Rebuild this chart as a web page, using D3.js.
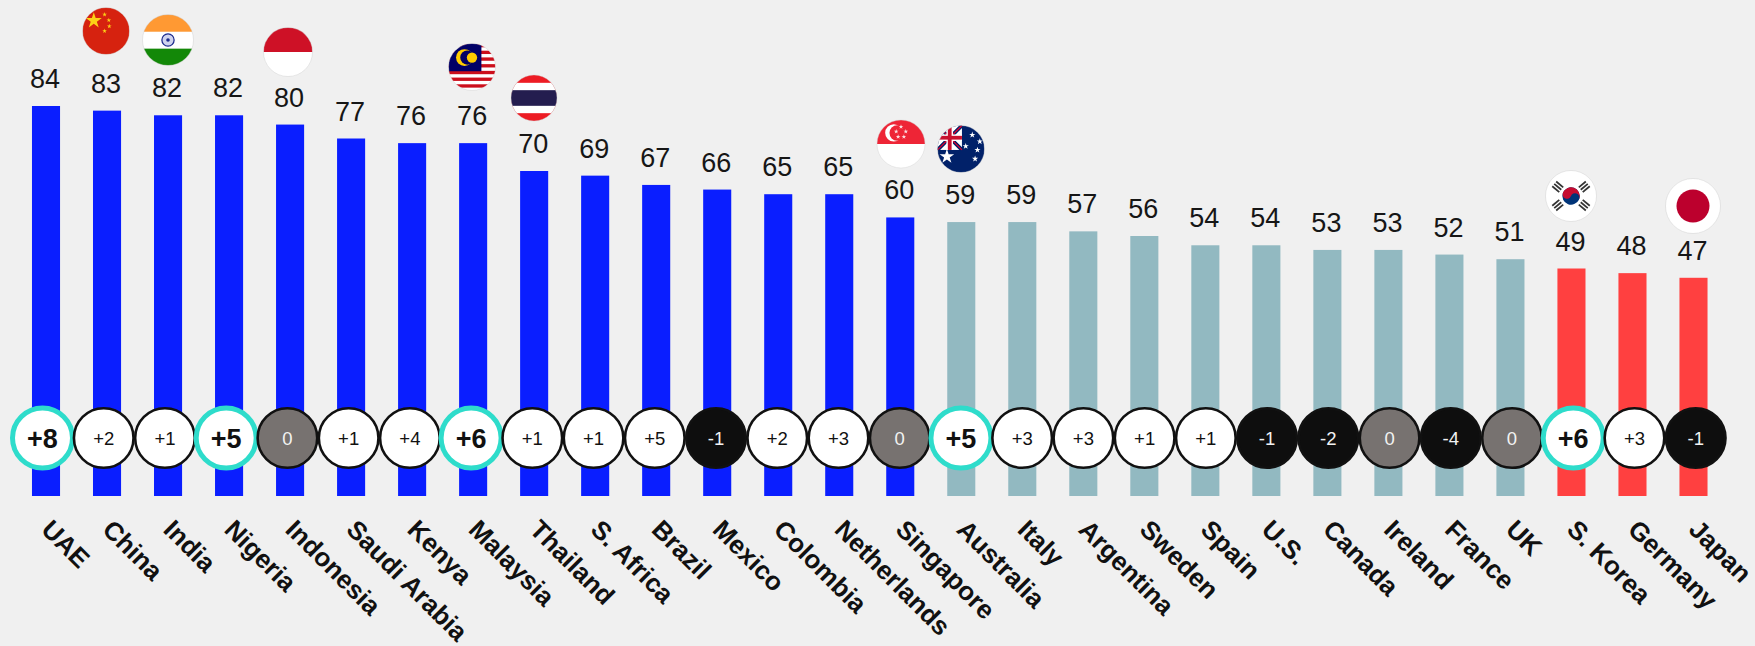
<!DOCTYPE html>
<html><head><meta charset="utf-8">
<script src="https://cdn.jsdelivr.net/npm/d3@7/dist/d3.min.js"></script>
<style>html,body{margin:0;padding:0;background:#f0f0f0;overflow:hidden}svg{display:block;font-family:"Liberation Sans",Arial,sans-serif}</style>
</head><body><svg id="c" width="1755" height="646"></svg>
<script>
const categories=["UAE","China","India","Nigeria","Indonesia","Saudi Arabia","Kenya","Malaysia","Thailand","S. Africa","Brazil","Mexico","Colombia","Netherlands","Singapore","Australia","Italy","Argentina","Sweden","Spain","U.S.","Canada","Ireland","France","UK","S. Korea","Germany","Japan"];
const scores=[84,83,82,82,80,77,76,76,70,69,67,66,65,65,60,59,59,57,56,54,54,53,53,52,51,49,48,47];
const changes=[8,2,1,5,0,1,4,6,1,1,5,-1,2,3,0,5,3,3,1,1,-1,-2,0,-4,0,6,3,-1];
const highlighted=["UAE","Nigeria","Malaysia","Australia","S. Korea"];
const flagged=["China","India","Indonesia","Malaysia","Thailand","Singapore","Australia","S. Korea","Japan"];

const svg=d3.select("#c");
const x=d3.scaleBand().domain(categories).range([15.5,1724]).paddingInner(0.54).paddingOuter(0.27);
const xc=d3.scalePoint().domain(categories).range([42.5,1695.7]);
const y=d3.scaleLinear().domain([0,84]).range([496,106]);
const colour=v=>v>=60?"#0a1eff":v>=50?"#92b9c1":"#ff4040";
const fmt=v=>v>0?"+"+v:String(v);

svg.append("g").selectAll("rect").data(categories).join("rect")
 .attr("x",d=>x(d)).attr("width",x.bandwidth())
 .attr("y",(d,i)=>y(scores[i])).attr("height",(d,i)=>y(0)-y(scores[i]))
 .attr("fill",(d,i)=>colour(scores[i]));

svg.append("g").selectAll("text").data(categories).join("text")
 .attr("x",d=>x(d)+x.bandwidth()/2-1).attr("y",(d,i)=>y(scores[i])-18)
 .attr("text-anchor","middle").attr("font-size",27).attr("fill","#161616")
 .text((d,i)=>scores[i]);

svg.append("clipPath").attr("id","edge").append("rect").attr("width",1727).attr("height",646);
svg.append("g").attr("clip-path","url(#edge)").selectAll("circle").data(categories).join("circle")
 .attr("cx",d=>xc(d)).attr("cy",438)
 .attr("r",d=>highlighted.includes(d)?30:29.8)
 .attr("fill",(d,i)=>changes[i]<0?"#0e0e0e":changes[i]===0?"#777270":"#fff")
 .attr("stroke",d=>highlighted.includes(d)?"#2edccb":"#111")
 .attr("stroke-width",d=>highlighted.includes(d)?5:2.6);
svg.append("g").selectAll("text").data(categories).join("text")
 .attr("x",d=>xc(d)).attr("text-anchor","middle")
 .attr("y",d=>438+(highlighted.includes(d)?9.5:7))
 .attr("font-size",d=>highlighted.includes(d)?27:18.5)
 .attr("font-weight",d=>highlighted.includes(d)?"bold":"normal")
 .attr("fill",(d,i)=>changes[i]<=0?"#f2f2f2":"#111")
 .text((d,i)=>fmt(changes[i]));

svg.append("g").selectAll("text").data(categories).join("text")
 .attr("transform",d=>`translate(${x(d)+x.bandwidth()/2-6},531) rotate(45)`)
 .attr("font-size",26).attr("font-weight","bold").attr("fill","#111")
 .text(d=>d);

// flags: hand-drawn on a 100x100 square, placed above each value label
const flagSpot={China:[106,31,23.5],India:[168,40,25.5],Indonesia:[288,52,24.5],Malaysia:[472,67,23.5],Thailand:[534,98,23],Singapore:[901,144,24],Australia:[961,149,23.5],"S. Korea":[1571,196,25.5],Japan:[1693,206,27.5]};
const defs=svg.append("defs");
defs.append("clipPath").attr("id","disc").append("circle").attr("cx",50).attr("cy",50).attr("r",50);
const star=(g,cx,cy,s,fill)=>g.append("path").attr("d",d3.symbol(d3.symbolStar,s)()).attr("transform",`translate(${cx},${cy})`).attr("fill",fill);
const band=(g,yy,h,fill,xx=0,w=100)=>g.append("rect").attr("x",xx).attr("y",yy).attr("width",w).attr("height",h).attr("fill",fill);
const dot=(g,cx,cy,r,fill)=>g.append("circle").attr("cx",cx).attr("cy",cy).attr("r",r).attr("fill",fill);
const painters={
 China(g){band(g,0,100,"#d6220f");star(g,24,28,360,"#fcd116");[[47,15],[56,27],[57,40],[47,50]].forEach(p=>star(g,p[0],p[1],30,"#fcd116"));},
 India(g){band(g,0,34,"#ff9933");band(g,34,33,"#fff");band(g,67,33,"#138808");
  g.append("circle").attr("cx",50).attr("cy",50).attr("r",12).attr("fill","#cfd3ee").attr("stroke","#1c2a8c").attr("stroke-width",2.5);
  dot(g,50,50,3.5,"#1c2a8c");},
 Indonesia(g){band(g,0,50,"#ce1126");band(g,50,50,"#fff");},
 Malaysia(g){band(g,0,100,"#fff");d3.range(7).forEach(i=>band(g,i*14.3+1,7.1,"#cc0f1c"));band(g,0,59,"#010066",0,70);
  dot(g,34,30,18,"#ffcc00");dot(g,40,30,15,"#010066");dot(g,50,30,11,"#ffcc00");},
 Thailand(g){band(g,0,100,"#ed1c24");band(g,17,66,"#fff");band(g,33,34,"#241d4f");},
 Singapore(g){band(g,0,50,"#ee2536");band(g,50,50,"#fff");
  dot(g,35,27,18,"#fff");dot(g,42,27,16,"#ee2536");
  [[50,14],[40,24],[60,24],[44,35],[56,35]].forEach(p=>star(g,p[0],p[1],30,"#fbdde0"));},
 Australia(g){band(g,0,100,"#012169");
  band(g,0,52,"#fff",0,52);
  g.append("path").attr("stroke","#012169").attr("stroke-width",8).attr("d","M52 0L0 52M0 0L52 52").attr("fill","none");
  g.append("path").attr("stroke","#e4002b").attr("stroke-width",2.5).attr("d","M52 0L0 52M0 0L52 52").attr("fill","none");
  band(g,19,14,"#fff",0,52);band(g,0,52,"#fff",19,14);
  band(g,22,8,"#c8102e",0,52);band(g,0,52,"#c8102e",22,8);
  [[74,20],[60,44],[90,34],[85,52],[80,71]].forEach(p=>star(g,p[0],p[1],55,"#fff"));star(g,20,66,300,"#fff");},
 "S. Korea"(g){band(g,0,100,"#fff");
  const t=g.append("g").attr("transform","rotate(20 50 50)");
  dot(t,50,50,17,"#003478");
  t.append("path").attr("fill","#c60c30").attr("d","M33 50a17 17 0 0 1 34 0z");
  dot(t,41.5,50,8.5,"#c60c30");dot(t,58.5,50,8.5,"#003478");
  [[24,32,-50],[76,32,50],[24,68,50],[76,68,-50]].forEach(p=>{const k=g.append("g").attr("transform",`translate(${p[0]},${p[1]}) rotate(${p[2]+90})`);
    [-6,0,6].forEach(d=>k.append("rect").attr("x",-9).attr("y",d-1.7).attr("width",18).attr("height",3.4).attr("fill","#333"));});},
 Japan(g){band(g,0,100,"#fff");dot(g,50,50,30,"#bc002d");}
};
flagged.forEach(name=>{
 const [cx,cy,r]=flagSpot[name];
 const k=r/50;
 const g=svg.append("g").attr("transform",`translate(${cx-r},${cy-r}) scale(${k})`);
 const inner=g.append("g").attr("clip-path","url(#disc)");
 painters[name](inner);
 g.append("circle").attr("cx",50).attr("cy",50).attr("r",50).attr("fill","none").attr("stroke","#ccc").attr("stroke-width",0.8);
});
</script></body></html>
